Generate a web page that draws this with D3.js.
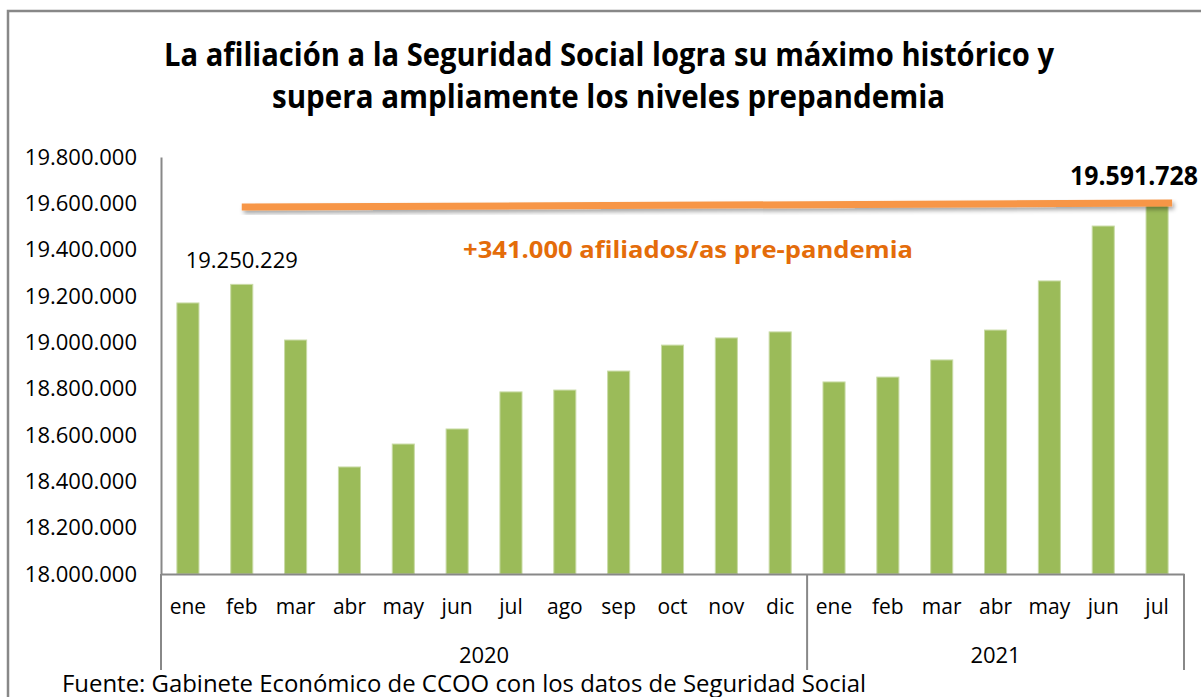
<!DOCTYPE html>
<html>
<head>
<meta charset="utf-8">
<script src="https://cdn.jsdelivr.net/npm/d3@7"></script>
<style>
  body { margin: 0; background: #fff; }
  svg text { font-family: "Open Sans", "Noto Sans", sans-serif; }
</style>
</head>
<body>
<div id="chart"></div>
<script>
// data
var years = ["2020", "2021"];
var months2020 = ["ene", "feb", "mar", "abr", "may", "jun", "jul", "ago", "sep", "oct", "nov", "dic"];
var months2021 = ["ene", "feb", "mar", "abr", "may", "jun", "jul"];
var values2020 = [19170000, 19250229, 19010000, 18462000, 18561000, 18626000, 18786000, 18794000, 18876000, 18988000, 19019000, 19045000];
var values2021 = [18829000, 18850000, 18924000, 19053000, 19265000, 19502000, 19591728];
var yTicks = [18000000, 18200000, 18400000, 18600000, 18800000, 19000000, 19200000, 19400000, 19600000, 19800000];
var titleLines = ["La afiliación a la Seguridad Social logra su máximo histórico y",
                  "supera ampliamente los niveles prepandemia"];
var annotationText = "+341.000 afiliados/as pre-pandemia";
var sourceText = "Fuente: Gabinete Económico de CCOO con los datos de Seguridad Social";
// orange line: from feb 2020 to jul 2021, approx level
var lineStart = {key: "2020-feb", value: 19584000};
var lineEnd = {key: "2021-jul", value: 19601000};

var svgWidth = 1201, svgHeight = 697;
var margin = {top: 157, right: 17, bottom: 123, left: 161};
var chartWidth = svgWidth - margin.left - margin.right;
var chartHeight = svgHeight - margin.top - margin.bottom;

var data = [];
months2020.forEach(function(m, i) { data.push({key: "2020-" + m, month: m, year: "2020", value: values2020[i]}); });
months2021.forEach(function(m, i) { data.push({key: "2021-" + m, month: m, year: "2021", value: values2021[i]}); });

var locale = d3.formatLocale({decimal: ",", thousands: ".", grouping: [3], currency: ["", "€"]});
var fmt = locale.format(",d");

var svg = d3.select("#chart").append("svg")
  .attr("width", svgWidth)
  .attr("height", svgHeight);

var defs = svg.append("defs");
var shadow = defs.append("filter").attr("id", "shadow")
  .attr("x", "-5%").attr("y", "-100%").attr("width", "110%").attr("height", "400%");
shadow.append("feDropShadow").attr("dx", 2).attr("dy", 3).attr("stdDeviation", 2)
  .attr("flood-color", "#000").attr("flood-opacity", 0.35);

// outer frame
svg.append("path")
  .attr("d", "M8,697 V11 H1201")
  .attr("fill", "none").attr("stroke", "#888").attr("stroke-width", 2.5);

// title
svg.append("g").selectAll("text")
  .data(titleLines).enter().append("text")
  .attr("x", (d, i) => i == 0 ? 164 : 272)
  .attr("y", (d, i) => i == 0 ? 66 : 108)
  .attr("textLength", (d, i) => i == 0 ? 890 : 673)
  .attr("lengthAdjust", "spacingAndGlyphs")
  .attr("font-size", 32).attr("font-weight", "bold").attr("fill", "#000")
  .text(d => d);

var chartGroup = svg.append("g")
  .attr("transform", `translate(${margin.left}, ${margin.top})`);

var xScale = d3.scaleBand()
  .domain(data.map(d => d.key))
  .range([0, chartWidth])
  .paddingInner(0.59)
  .paddingOuter(0.295);

var yScale = d3.scaleLinear()
  .domain([18000000, 19800000])
  .range([chartHeight, 0]);

// y axis
var yAxis = d3.axisLeft(yScale).tickValues(yTicks).tickSize(0).tickPadding(24).tickFormat(fmt);
var yG = chartGroup.append("g").call(yAxis);
yG.select(".domain").attr("stroke", "#888").attr("stroke-width", 2);
yG.selectAll("text").attr("font-size", 22).attr("fill", "#000")
  .attr("font-family", "'Open Sans', sans-serif");

// bars
chartGroup.selectAll(".bar")
  .data(data).enter().append("rect")
  .attr("class", "bar")
  .attr("x", d => xScale(d.key))
  .attr("width", xScale.bandwidth())
  .attr("y", d => yScale(d.value))
  .attr("height", d => chartHeight - yScale(d.value))
  .attr("fill", "#9bbb59")
  .attr("stroke", "#c9dba6").attr("stroke-width", 1);

// category axis with year groups
var xAxis = d3.axisBottom(xScale).tickSize(0).tickPadding(25).tickFormat(k => k.split("-")[1]);
var xG = chartGroup.append("g").attr("transform", `translate(0,${chartHeight})`).call(xAxis);
xG.select(".domain").attr("stroke", "#888").attr("stroke-width", 2);
xG.selectAll("text").attr("font-size", 21).attr("fill", "#000")
  .attr("font-family", "'Open Sans', sans-serif");

var groupBottom = chartHeight + 96;
// separator between years sits at the end of the last 2020 slot
var sep = xScale("2020-dic") + xScale.bandwidth() + xScale.step() * xScale.paddingInner() / 2;
[0, sep, chartWidth].forEach(function(x) {
  chartGroup.append("line")
    .attr("x1", x).attr("x2", x)
    .attr("y1", chartHeight).attr("y2", groupBottom)
    .attr("stroke", "#888").attr("stroke-width", 2);
});

chartGroup.selectAll(".year")
  .data(years).enter().append("text")
  .attr("class", "year")
  .attr("x", (d, i) => i == 0 ? sep / 2 : (sep + chartWidth) / 2)
  .attr("y", chartHeight + 89)
  .attr("text-anchor", "middle")
  .attr("font-size", 22).attr("fill", "#000")
  .text(d => d);

// value labels
var feb = data.find(d => d.key == "2020-feb");
chartGroup.append("text")
  .attr("x", xScale(feb.key) + xScale.bandwidth() / 2)
  .attr("y", yScale(feb.value) - 16)
  .attr("text-anchor", "middle")
  .attr("font-size", 22).attr("fill", "#000")
  .text(fmt(feb.value));

var last = data[data.length - 1];
chartGroup.append("text")
  .attr("x", 1070 - margin.left)
  .attr("y", yScale(last.value) - 20)
  .attr("textLength", 128)
  .attr("lengthAdjust", "spacingAndGlyphs")
  .attr("font-size", 26).attr("font-weight", "bold").attr("fill", "#000")
  .text(fmt(last.value));

// orange line annotation
chartGroup.append("line")
  .attr("x1", xScale(lineStart.key) + xScale.bandwidth() / 2)
  .attr("y1", yScale(lineStart.value))
  .attr("x2", xScale(lineEnd.key) + xScale.bandwidth() + 4)
  .attr("y2", yScale(lineEnd.value))
  .attr("stroke", "#f79646").attr("stroke-width", 7)
  .attr("filter", "url(#shadow)");

chartGroup.append("text")
  .attr("x", 302)
  .attr("y", 101)
  .attr("textLength", 450)
  .attr("lengthAdjust", "spacingAndGlyphs")
  .attr("font-size", 24).attr("font-weight", "bold").attr("fill", "#e46c0a")
  .text(annotationText);

// source
svg.append("text")
  .attr("x", 62).attr("y", 692)
  .attr("textLength", 804)
  .attr("lengthAdjust", "spacingAndGlyphs")
  .attr("font-size", 23).attr("fill", "#000")
  .text(sourceText);
</script>
</body>
</html>
